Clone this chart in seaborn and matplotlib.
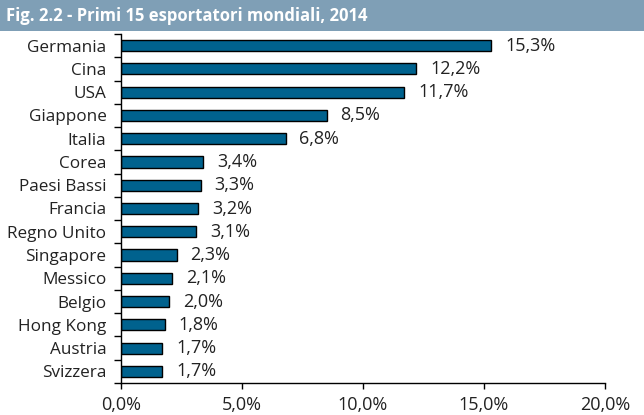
import matplotlib
matplotlib.use("Agg")
import matplotlib.pyplot as plt
import matplotlib.patches as mpatches
from matplotlib.ticker import FixedLocator, FuncFormatter
import seaborn as sns
import pandas as pd
import numpy as np

countries = ["Germania", "Cina", "USA", "Giappone", "Italia", "Corea", "Paesi Bassi",
             "Francia", "Regno Unito", "Singapore", "Messico", "Belgio", "Hong Kong",
             "Austria", "Svizzera"]
shares = [15.3, 12.2, 11.7, 8.5, 6.8, 3.4, 3.3, 3.2, 3.1, 2.3, 2.1, 2.0, 1.8, 1.7, 1.7]
x_ticks = [0, 5, 10, 15, 20]
title = "Fig. 2.2 - Primi 15 esportatori mondiali, 2014"

df = pd.DataFrame({"paese": countries, "quota": shares})

sns.set_theme(style="white")
plt.rcParams["font.family"] = ["Open Sans", "DejaVu Sans"]

fig = plt.figure(figsize=(6.44, 4.15), dpi=100)
W, H = 644, 415
ax = fig.add_axes([121 / W, 1 - 383 / H, (605 - 121) / W, (383 - 34) / H])

sns.barplot(data=df, x="quota", y="paese", orient="h", color="#00628E",
            edgecolor="black", linewidth=1.0, width=0.48, saturation=1, ax=ax)

ax.set_xlim(0, 20)
ax.set_ylim(len(countries) - 0.5, -0.5)
ax.set_xlabel("")
ax.set_ylabel("")
ax.xaxis.set_major_locator(FixedLocator(x_ticks))
ax.xaxis.set_major_formatter(FuncFormatter(lambda v, p: f"{v:.1f}".replace(".", ",") + "%"))
ax.tick_params(axis="x", direction="out", length=4, width=1, color="black",
               labelsize=13, labelcolor="#222222", pad=5, bottom=True)
ax.tick_params(axis="y", which="major", length=0, labelsize=12.3, labelcolor="#222222", pad=10.5)
ax.yaxis.set_minor_locator(FixedLocator(np.arange(-0.5, len(countries) + 0.5, 1)))
ax.tick_params(axis="y", which="minor", direction="out", length=5, width=1, color="black", left=True)

for s in ["top", "right"]:
    ax.spines[s].set_visible(False)
for s in ["left", "bottom"]:
    ax.spines[s].set_color("black")
    ax.spines[s].set_linewidth(1.0)

for i, v in enumerate(shares):
    ax.annotate(f"{v:.1f}".replace(".", ",") + "%", xy=(v, i), xytext=(10, 0),
                textcoords="offset points", va="center", ha="left",
                fontsize=13, color="#222222")

fig.patches.append(mpatches.Rectangle((0, 1 - 31 / H), 1, 31 / H, transform=fig.transFigure,
                                      facecolor="#7F9FB6", edgecolor="none", zorder=0))
fig.text(6 / W, 1 - 16 / H, title, color="white", fontsize=12, fontweight="bold",
         va="center", ha="left")

fig.savefig("out.png", dpi=100)
